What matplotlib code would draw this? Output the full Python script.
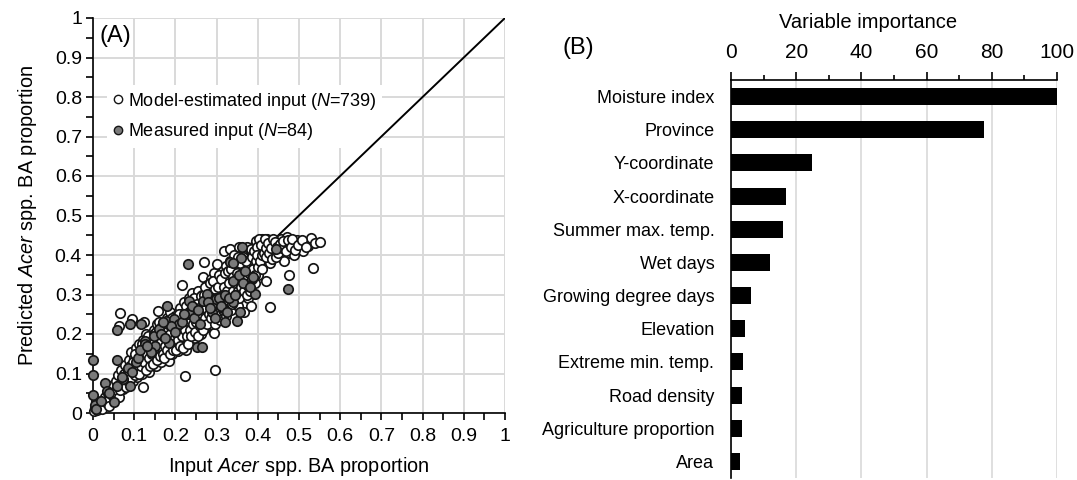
import matplotlib
matplotlib.use("Agg")
import matplotlib.pyplot as plt
from matplotlib.lines import Line2D
import numpy as np

plt.rcParams["font.family"] = ["Liberation Sans", "DejaVu Sans"]
plt.rcParams["mathtext.fontset"] = "custom"
plt.rcParams["mathtext.rm"] = "Liberation Sans"
plt.rcParams["mathtext.it"] = "Liberation Sans:italic"

# ---- Panel A data: (input, predicted) Acer BA proportion ----
model_estimated = [
    (0.003, 0.005), (0.006, 0.012), (0.010, 0.008), (0.012, 0.020), (0.015, 0.014),
    (0.018, 0.028), (0.020, 0.018), (0.008, 0.030), (0.022, 0.010), (0.025, 0.032),
    (0.030, 0.040), (0.033, 0.025), (0.036, 0.050), (0.040, 0.035), (0.042, 0.060),
    (0.045, 0.045), (0.048, 0.070), (0.050, 0.052), (0.038, 0.018), (0.052, 0.038),
    (0.055, 0.080), (0.058, 0.062), (0.061, 0.095), (0.064, 0.072), (0.066, 0.253),
    (0.064, 0.221), (0.068, 0.110), (0.070, 0.085), (0.072, 0.060), (0.075, 0.100),
    (0.078, 0.122), (0.080, 0.090), (0.082, 0.072), (0.085, 0.110),
    (0.088, 0.135), (0.090, 0.098), (0.092, 0.155), (0.094, 0.238), (0.095, 0.118),
    (0.097, 0.082), (0.100, 0.140), (0.102, 0.108), (0.104, 0.165), (0.106, 0.125),
    (0.108, 0.092), (0.110, 0.150), (0.112, 0.175), (0.113, 0.115),
    (0.116, 0.135), (0.118, 0.160), (0.121, 0.066), (0.120, 0.100), (0.122, 0.185),
    (0.123, 0.231), (0.125, 0.145), (0.127, 0.120), (0.128, 0.200), (0.130, 0.165),
    (0.132, 0.135), (0.134, 0.180), (0.136, 0.105), (0.138, 0.155), (0.140, 0.195),
    (0.142, 0.128),
    (0.145, 0.170), (0.147, 0.210), (0.148, 0.140), (0.150, 0.185), (0.152, 0.118),
    (0.154, 0.160), (0.156, 0.225), (0.157, 0.259), (0.158, 0.195), (0.160, 0.150),
    (0.162, 0.175), (0.164, 0.210), (0.166, 0.130), (0.168, 0.190), (0.170, 0.160),
    (0.172, 0.225), (0.174, 0.205),
    (0.176, 0.145), (0.178, 0.180), (0.180, 0.240), (0.182, 0.200), (0.184, 0.132),
    (0.185, 0.165), (0.187, 0.255), (0.189, 0.215), (0.190, 0.185), (0.192, 0.150),
    (0.194, 0.230), (0.196, 0.200), (0.198, 0.170), (0.200, 0.245), (0.202, 0.188),
    (0.204, 0.215), (0.206, 0.158),
    (0.208, 0.230), (0.210, 0.265), (0.212, 0.200), (0.214, 0.175), (0.216, 0.250),
    (0.217, 0.324), (0.218, 0.215), (0.220, 0.280), (0.222, 0.190), (0.224, 0.093),
    (0.224, 0.240), (0.226, 0.160), (0.228, 0.262), (0.230, 0.205), (0.232, 0.290),
    (0.234, 0.225), (0.236, 0.180),
    (0.238, 0.250), (0.240, 0.305), (0.242, 0.210), (0.244, 0.270), (0.246, 0.232),
    (0.248, 0.190), (0.250, 0.290), (0.252, 0.255), (0.254, 0.215), (0.256, 0.310),
    (0.258, 0.240), (0.260, 0.275), (0.262, 0.200), (0.264, 0.300), (0.266, 0.228),
    (0.268, 0.345), (0.270, 0.382), (0.270, 0.260), (0.272, 0.215), (0.274, 0.290),
    (0.276, 0.325), (0.278, 0.245), (0.280, 0.305), (0.282, 0.270), (0.284, 0.230),
    (0.286, 0.340), (0.288, 0.285), (0.290, 0.315), (0.292, 0.250), (0.293, 0.202),
    (0.294, 0.355), (0.296, 0.300), (0.297, 0.110), (0.298, 0.270),
    (0.300, 0.330), (0.302, 0.378), (0.304, 0.240), (0.306, 0.295), (0.308, 0.350),
    (0.310, 0.265), (0.312, 0.315), (0.314, 0.280), (0.316, 0.360), (0.318, 0.410),
    (0.318, 0.250), (0.320, 0.335), (0.322, 0.300), (0.324, 0.372), (0.326, 0.270),
    (0.328, 0.345), (0.330, 0.310), (0.332, 0.416), (0.332, 0.385), (0.334, 0.260),
    (0.336, 0.330), (0.338, 0.295), (0.340, 0.360), (0.342, 0.400), (0.344, 0.280),
    (0.346, 0.345), (0.348, 0.315), (0.350, 0.380), (0.352, 0.270), (0.354, 0.420),
    (0.356, 0.335),
    (0.358, 0.365), (0.360, 0.300), (0.362, 0.400), (0.363, 0.416), (0.364, 0.340),
    (0.366, 0.255), (0.368, 0.380), (0.370, 0.320), (0.372, 0.410), (0.374, 0.355),
    (0.376, 0.290), (0.377, 0.406), (0.378, 0.375), (0.380, 0.340), (0.382, 0.395),
    (0.384, 0.272), (0.386, 0.360), (0.388, 0.420), (0.390, 0.385), (0.392, 0.330),
    (0.394, 0.405), (0.396, 0.436), (0.398, 0.375), (0.400, 0.350), (0.402, 0.425),
    (0.404, 0.395), (0.406, 0.410), (0.408, 0.380), (0.410, 0.440),
    (0.412, 0.400), (0.414, 0.420), (0.416, 0.385), (0.418, 0.430), (0.420, 0.333),
    (0.422, 0.440), (0.424, 0.410), (0.426, 0.395), (0.428, 0.425), (0.429, 0.268),
    (0.429, 0.380), (0.432, 0.435), (0.434, 0.415), (0.436, 0.400), (0.438, 0.428),
    (0.440, 0.420),
    (0.444, 0.405), (0.448, 0.432), (0.452, 0.418), (0.456, 0.440), (0.460, 0.410),
    (0.463, 0.386), (0.466, 0.428), (0.470, 0.446), (0.472, 0.415), (0.475, 0.350),
    (0.475, 0.422), (0.478, 0.405), (0.482, 0.435), (0.486, 0.420), (0.488, 0.399),
    (0.492, 0.430), (0.496, 0.437), (0.500, 0.415), (0.505, 0.425), (0.510, 0.410),
    (0.515, 0.430), (0.523, 0.423), (0.529, 0.443), (0.533, 0.368), (0.540, 0.430),
    (0.551, 0.433),
    # densest part of the cloud
    (0.056, 0.050), (0.062, 0.040), (0.066, 0.058), (0.074, 0.078), (0.079, 0.065),
    (0.083, 0.095), (0.086, 0.080), (0.091, 0.120), (0.093, 0.088), (0.098, 0.128),
    (0.101, 0.095), (0.103, 0.150), (0.107, 0.110), (0.109, 0.135), (0.111, 0.100),
    (0.114, 0.145), (0.117, 0.118), (0.119, 0.175), (0.124, 0.130), (0.126, 0.160),
    (0.129, 0.110), (0.131, 0.150), (0.133, 0.195), (0.135, 0.140), (0.137, 0.170),
    (0.139, 0.120), (0.141, 0.180), (0.143, 0.150), (0.146, 0.125), (0.149, 0.200),
    (0.151, 0.150), (0.153, 0.205), (0.155, 0.135), (0.159, 0.170), (0.161, 0.230),
    (0.163, 0.145), (0.165, 0.180), (0.167, 0.220), (0.169, 0.150), (0.171, 0.195),
    (0.173, 0.140), (0.175, 0.170), (0.177, 0.210), (0.179, 0.160), (0.181, 0.190),
    (0.183, 0.225), (0.186, 0.150), (0.188, 0.200), (0.191, 0.240), (0.193, 0.175),
    (0.195, 0.160), (0.197, 0.215), (0.199, 0.190), (0.201, 0.160), (0.203, 0.230),
    (0.205, 0.200), (0.207, 0.185), (0.209, 0.250), (0.211, 0.170), (0.213, 0.225),
    (0.215, 0.195), (0.219, 0.165), (0.221, 0.230), (0.223, 0.210), (0.225, 0.270),
    (0.227, 0.195), (0.229, 0.240), (0.231, 0.175), (0.233, 0.255), (0.235, 0.210),
    (0.237, 0.235), (0.239, 0.195), (0.241, 0.260), (0.243, 0.225), (0.245, 0.290),
    (0.247, 0.205), (0.249, 0.250),
    (0.251, 0.230), (0.253, 0.275), (0.255, 0.195), (0.257, 0.265), (0.259, 0.220),
    (0.261, 0.295), (0.263, 0.245), (0.265, 0.265), (0.267, 0.210), (0.269, 0.300),
    (0.271, 0.240), (0.273, 0.320), (0.275, 0.265), (0.277, 0.225), (0.279, 0.285),
    (0.281, 0.250), (0.283, 0.330), (0.285, 0.300), (0.287, 0.240), (0.289, 0.295),
    (0.291, 0.335), (0.293, 0.275), (0.295, 0.225), (0.297, 0.315), (0.299, 0.290),
    (0.301, 0.255), (0.303, 0.320), (0.305, 0.350), (0.307, 0.275), (0.309, 0.235),
    (0.311, 0.340), (0.313, 0.295), (0.315, 0.260), (0.317, 0.320), (0.319, 0.285),
    (0.321, 0.355), (0.323, 0.245), (0.325, 0.310), (0.327, 0.360), (0.329, 0.280),
    (0.331, 0.330), (0.333, 0.300), (0.335, 0.365), (0.337, 0.275), (0.339, 0.345),
    (0.341, 0.310), (0.343, 0.380), (0.345, 0.330), (0.347, 0.290), (0.349, 0.355),
    (0.351, 0.310), (0.353, 0.395), (0.355, 0.290), (0.357, 0.380), (0.359, 0.320),
    (0.361, 0.350), (0.365, 0.395), (0.367, 0.310), (0.369, 0.345), (0.371, 0.385),
    (0.373, 0.300), (0.375, 0.420), (0.379, 0.355), (0.381, 0.310), (0.383, 0.415),
    (0.385, 0.340), (0.387, 0.395), (0.389, 0.365), (0.391, 0.410), (0.393, 0.350),
    (0.395, 0.385), (0.397, 0.420), (0.399, 0.400), (0.401, 0.370), (0.403, 0.440),
    (0.405, 0.385), (0.407, 0.425), (0.409, 0.400), (0.411, 0.365), (0.415, 0.405),
    (0.417, 0.440), (0.419, 0.395), (0.421, 0.418), (0.425, 0.430), (0.427, 0.405),
    (0.431, 0.418), (0.435, 0.390), (0.437, 0.440), (0.441, 0.432), (0.443, 0.395),
    (0.446, 0.420), (0.450, 0.405), (0.454, 0.428), (0.458, 0.418), (0.462, 0.435),
    (0.468, 0.410), (0.474, 0.438), (0.480, 0.420), (0.484, 0.440), (0.490, 0.412),
    (0.498, 0.425), (0.507, 0.437), (0.518, 0.420),
]

measured = [
    (0.000, 0.133), (0.000, 0.096), (0.000, 0.045), (0.004, 0.021), (0.007, 0.010),
    (0.029, 0.075), (0.035, 0.055), (0.051, 0.028), (0.059, 0.134), (0.059, 0.068),
    (0.059, 0.210), (0.089, 0.225), (0.089, 0.068), (0.073, 0.085), (0.084, 0.115),
    (0.117, 0.225), (0.127, 0.183), (0.127, 0.174), (0.148, 0.195), (0.160, 0.212),
    (0.180, 0.272), (0.176, 0.233), (0.184, 0.178), (0.197, 0.238), (0.209, 0.225),
    (0.230, 0.378), (0.234, 0.284), (0.234, 0.250), (0.252, 0.166), (0.265, 0.167),
    (0.268, 0.284), (0.276, 0.301), (0.289, 0.255), (0.289, 0.272), (0.299, 0.289),
    (0.321, 0.231), (0.316, 0.267), (0.339, 0.282), (0.332, 0.382), (0.339, 0.335),
    (0.350, 0.233), (0.358, 0.255), (0.359, 0.392), (0.377, 0.321), (0.389, 0.345),
    (0.393, 0.301), (0.443, 0.416), (0.473, 0.314), (0.361, 0.419),
    (0.150, 0.170), (0.140, 0.155), (0.165, 0.200), (0.190, 0.220), (0.200, 0.205),
    (0.215, 0.230), (0.220, 0.250), (0.240, 0.270), (0.245, 0.240), (0.255, 0.260),
    (0.260, 0.225), (0.280, 0.280), (0.285, 0.265), (0.295, 0.240), (0.305, 0.290),
    (0.310, 0.270), (0.320, 0.300), (0.325, 0.255), (0.330, 0.290), (0.345, 0.300),
    (0.355, 0.350), (0.365, 0.330), (0.370, 0.360), (0.380, 0.320), (0.340, 0.380),
    (0.105, 0.130), (0.110, 0.140), (0.095, 0.105), (0.070, 0.090), (0.040, 0.050),
    (0.020, 0.030), (0.115, 0.160), (0.130, 0.170), (0.175, 0.190), (0.170, 0.230),
]

# ---- Panel B data: variable importance ----
variables = [
    "Moisture index", "Province", "Y-coordinate", "X-coordinate",
    "Summer max. temp.", "Wet days", "Growing degree days", "Elevation",
    "Extreme min. temp.", "Road density", "Agriculture proportion", "Area",
]
importance = [100, 77.7, 24.8, 16.8, 15.9, 12.0, 6.0, 4.2, 3.8, 3.4, 3.3, 2.9]

W, H = 1077, 480
GRID = "#d9d9d9"
FS = 13

fig = plt.figure(figsize=(W / 100, H / 100), dpi=100)

# ---------------- Panel A ----------------
ax = fig.add_axes([93 / W, 1 - 413 / H, 412 / W, 395 / H])
ax.set_xlim(0, 1)
ax.set_ylim(0, 1)
ticks = np.round(np.arange(0, 1.01, 0.1), 1)
labels = ["0"] + [f"{t:.1f}" for t in ticks[1:-1]] + ["1"]
ax.set_xticks(ticks)
ax.set_yticks(ticks)
ax.set_xticklabels(labels)
ax.set_yticklabels(labels)
ax.set_xticks(np.arange(0.05, 1, 0.1), minor=True)
ax.set_yticks(np.arange(0.05, 1, 0.1), minor=True)
ax.grid(True, which="major", color=GRID, linewidth=1.4, zorder=0)
ax.set_axisbelow(True)
for s in ("top", "right"):
    ax.spines[s].set_visible(False)
for s in ("left", "bottom"):
    ax.spines[s].set_linewidth(1.2)
ax.tick_params(which="both", direction="out", length=5, width=1.2,
               labelsize=14, pad=3)
ax.tick_params(axis="x", pad=6)

ax.plot([0, 1], [0, 1], color="black", linewidth=1.4, zorder=2)

mx, my = zip(*model_estimated)
gx, gy = zip(*measured)
ax.scatter(mx, my, s=46, facecolor="white", edgecolor="#151515",
           linewidth=1.25, zorder=3, clip_on=False)
ax.scatter(gx, gy, s=46, facecolor="#7a7a7a", edgecolor="#151515",
           linewidth=1.25, zorder=4, clip_on=False)

handles = [
    Line2D([], [], marker="o", linestyle="none", markersize=6,
           markerfacecolor="white", markeredgecolor="#151515", markeredgewidth=1.0),
    Line2D([], [], marker="o", linestyle="none", markersize=6,
           markerfacecolor="#7a7a7a", markeredgecolor="#151515", markeredgewidth=1.0),
]
leg = ax.legend(handles,
                [r"Model-estimated input ($\mathit{N}$=739)",
                 r"Measured input ($\mathit{N}$=84)"],
                loc="upper left", bbox_to_anchor=(0.035, 0.83),
                fontsize=FS, handlelength=0.6, handletextpad=0.25,
                labelspacing=0.55, borderpad=0.3, borderaxespad=0,
                frameon=True, fancybox=False)
leg.get_frame().set_facecolor("white")
leg.get_frame().set_edgecolor("none")
leg.get_frame().set_alpha(1)
leg.set_zorder(1.5)

ax.text(0.015, 0.955, "(A)", transform=ax.transAxes, fontsize=17,
        ha="left", va="center")
ax.set_xlabel(r"Input $\mathit{Acer}$ spp. BA proportion", fontsize=14.3, labelpad=7)
ax.set_ylabel(r"Predicted $\mathit{Acer}$ spp. BA proportion", fontsize=14.3, labelpad=11)

# ---------------- Panel B ----------------
bx = fig.add_axes([731 / W, 1 - 478 / H, 326 / W, 398 / H])
y = np.arange(len(variables))
bx.barh(y, importance, height=0.51, color="black", zorder=3)
bx.set_xlim(0, 100)
bx.set_ylim(len(variables) - 0.5, -0.5)
bx.set_yticks(y)
bx.set_yticklabels(variables)
bx.set_xticks(np.arange(0, 101, 20))
bx.set_xticks(np.arange(10, 100, 20), minor=True)
bx.xaxis.tick_top()
bx.grid(True, axis="x", which="major", color=GRID, linewidth=1.2, zorder=0)
bx.set_axisbelow(True)
for s in ("bottom", "right"):
    bx.spines[s].set_visible(False)
for s in ("left", "top"):
    bx.spines[s].set_linewidth(1.2)
    bx.spines[s].set_zorder(5)
bx.tick_params(axis="x", which="major", direction="out", length=6, width=1.2,
               labelsize=15, pad=7)
bx.tick_params(axis="x", which="minor", direction="out", length=3.5, width=1.2)
bx.tick_params(axis="y", length=0, labelsize=FS, pad=12)

fig.text(868 / W, 1 - 23 / H, "Variable importance", fontsize=14.5,
         ha="center", va="center")
fig.text(563 / W, 1 - 48 / H, "(B)", fontsize=17, ha="left", va="center")

fig.savefig("out.png", dpi=100)
